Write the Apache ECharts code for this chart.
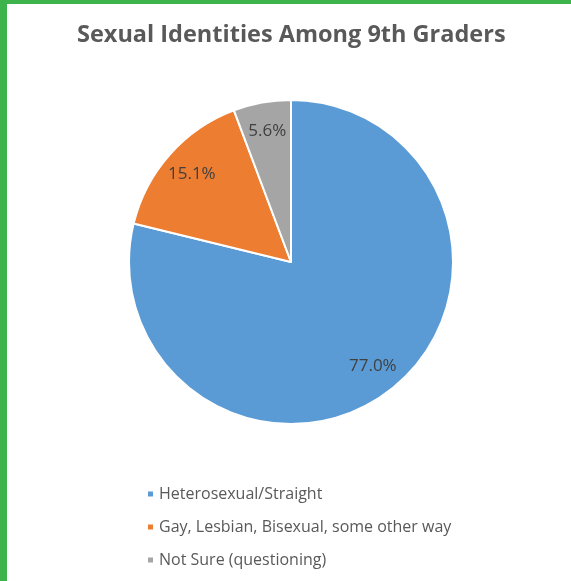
<!DOCTYPE html>
<html><head><meta charset="utf-8">
<script src="https://cdn.jsdelivr.net/npm/echarts@6/dist/echarts.min.js"></script>
<style>
html,body{margin:0;padding:0;background:#fff;}
#main{position:absolute;left:0;top:0;width:571px;height:581px;}
.bt{position:absolute;left:0;top:0;width:571px;height:4px;background:#3cb44b;z-index:5;}
.bl{position:absolute;left:0;top:0;width:7px;height:581px;background:#3cb44b;z-index:5;}
</style></head>
<body>
<div id="main"></div><div class="bt"></div><div class="bl"></div>
<script>
const titleText = 'Sexual Identities Among 9th Graders';
const categories = ['Heterosexual/Straight', 'Gay, Lesbian, Bisexual, some other way', 'Not Sure (questioning)'];
const values = [77.0, 15.1, 5.6];
const colors = ['#5b9bd5', '#ed7d31', '#a5a5a5'];

const data = categories.map((c, i) => ({ name: c, value: values[i], itemStyle: { color: colors[i] } }));
const font = '"Open Sans", "Liberation Sans", sans-serif';
const chart = echarts.init(document.getElementById('main'), null, { renderer: 'canvas' });
chart.setOption({
  animation: false,
  title: {
    text: titleText, left: 72, top: 18, padding: 5,
    textStyle: { fontFamily: font, fontSize: 23.5, fontWeight: 'bold', color: '#595959' }
  },
  legend: {
    orient: 'vertical', left: 141, top: 481, itemGap: 17,
    itemWidth: 7, itemHeight: 7, icon: 'rect',
    textStyle: { fontFamily: font, fontSize: 16, lineHeight: 16, color: '#595959' },
    data: categories
  },
  series: [{
    type: 'pie', center: [291, 262], radius: [0, 162], startAngle: 90, clockwise: true,
    label: { show: false }, labelLine: { show: false },
    itemStyle: { borderColor: '#fff', borderWidth: 2 },
    data: data
  }, {
    type: 'pie', center: [291, 262], radius: [97, 162], startAngle: 90, clockwise: true,
    silent: true, legendHoverLink: false,
    itemStyle: { color: 'rgba(0,0,0,0)', borderWidth: 0 },
    label: { show: true, position: 'inside', formatter: p => p.value.toFixed(1) + '%',
      fontFamily: font, fontSize: 17, color: '#404040' },
    labelLine: { show: false },
    data: values.map((v, i) => ({ name: categories[i] + ' ', value: v }))
  }]
});
</script>
</body></html>
